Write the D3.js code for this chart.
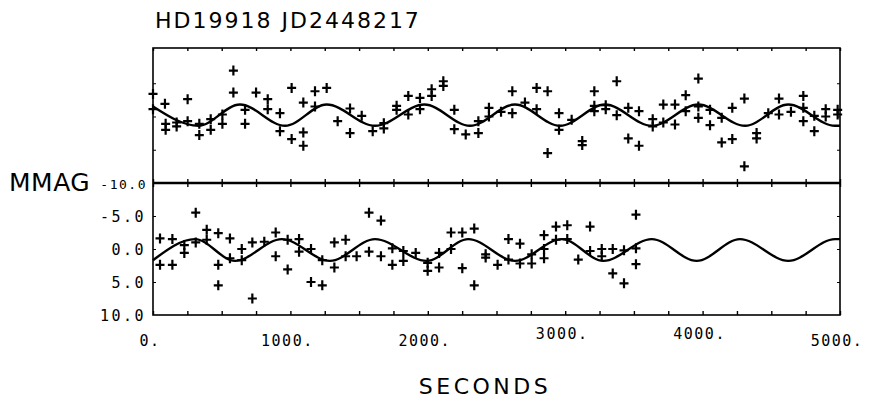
<!DOCTYPE html>
<html>
<head>
<meta charset="utf-8">
<script src="https://cdn.jsdelivr.net/npm/d3@7"></script>
<style>
	body { margin: 0; background: #fff; }
	text { fill: #000; }
</style>
</head>
<body>
<div id="chart"></div>
<script>
// upper light curve: time (s) and mmag
var topTime = [0, 0, 87, 92, 92, 172, 172, 252, 252, 337, 337, 420, 420, 505, 505, 585, 585, 670, 670, 750,
	835, 835, 924, 924, 1009, 1009, 1094, 1094, 1094, 1179, 1179, 1264, 1344, 1434, 1434, 1519, 1599, 1680, 1680,
	1773, 1773, 1858, 1858, 1943, 1943, 2028, 2028, 2113, 2113, 2193, 2193, 2276, 2368, 2368, 2445, 2445, 2533,
	2615, 2615, 2707, 2792, 2792, 2872, 2872, 2955, 2955, 3047, 3124, 3124, 3212, 3212, 3212, 3295, 3295, 3375,
	3375, 3459, 3459, 3537, 3537, 3637, 3637, 3714, 3714, 3799, 3799, 3877, 3877, 3969, 3969, 3969, 4054, 4054,
	4139, 4139, 4216, 4216, 4304, 4304, 4393, 4393, 4478, 4556, 4556, 4643, 4733, 4733, 4733, 4813, 4813, 4896,
	4896, 4983, 4983];
var topMag = [-3.4, -1.1, -1.9, 1.1, 2.0, 0.9, 1.5, -2.6, 0.7, 1.1, 2.8, 0.4, 2.0, -0.3, 1.1, -6.9, -3.6, -1.0, 1.1, -3.6,
	-2.6, -1.1, -0.5, 2.2, -4.3, 3.4, -2.1, 2.4, 4.4, -3.8, -1.5, -4.3, 0.7, -1.2, 2.5, -0.1, 2.2, 1.0, 1.8,
	-1.6, -1.0, -3.1, -0.3, -2.8, -1.1, -4.1, -3.1, -5.3, -4.6, -1.0, 1.9, 2.7, 0.7, 2.5, -1.3, 0.0, -0.7,
	-3.8, -0.5, -2.1, -4.3, -1.1, -3.8, 5.5, -0.5, 2.0, 0.5, 3.7, 4.3, -3.8, -1.6, -0.8, -1.7, -1.1, -5.3,
	-0.2, -1.3, 3.3, -0.8, 4.4, 0.4, 1.5, -1.8, 0.9, -1.8, 1.2, -3.2, -0.8, -5.7, -1.5, 0.2, -1.0, 1.3,
	0.2, 3.9, -1.3, 3.4, -2.7, 7.5, 2.5, 3.3, -0.5, -2.7, -0.3, -0.7, -3.1, -1.3, 0.7, -0.1, 2.2, -1.1,
	0.0, -1.0, -0.3];

// lower light curve
var botTime = [51, 51, 141, 141, 228, 228, 311, 311, 391, 391, 475, 475, 475, 560, 560, 646, 646, 723, 723, 810,
	893, 893, 980, 980, 1063, 1063, 1150, 1150, 1232, 1232, 1320, 1320, 1402, 1402, 1482, 1572, 1572, 1659, 1659,
	1742, 1742, 1822, 1822, 1912, 1999, 1999, 2082, 2082, 2169, 2169, 2251, 2251, 2338, 2338, 2421, 2421, 2508,
	2587, 2587, 2671, 2671, 2756, 2756, 2846, 2846, 2846, 2933, 2933, 3015, 3015, 3095, 3181, 3181, 3266, 3266,
	3346, 3346, 3428, 3428, 3515, 3515, 3515];
var botMag = [-1.6, 2.4, -1.5, 2.4, -0.6, 0.6, -5.5, -1.0, -2.9, -1.4, -2.4, 2.4, 5.5, -1.6, 1.4, 0.0, 1.7, -1.0, 7.5, -1.1,
	-2.5, 1.1, -1.4, 3.1, -1.5, 0.4, 0.0, 5.0, 1.7, 5.5, -1.0, 2.8, -1.4, 1.1, 1.1, -5.5, 0.4, -4.3, 1.1,
	-0.1, 2.4, 0.3, 1.8, 0.6, 2.1, 3.3, 0.6, 2.8, -2.5, 0.0, -2.5, 2.9, -3.1, 5.5, 0.8, 1.3, 2.4,
	-1.5, 1.6, -0.8, 2.2, 0.8, 2.2, -2.1, 0.0, 1.4, -3.4, -1.4, -3.6, -1.5, 1.6, -3.4, 0.3, 0.0, 1.1,
	0.0, 3.7, 0.2, 5.2, -5.2, -0.1, 2.3];

// fitted curves: turning points
var topFitTime = [0, 330, 633, 961, 1264, 1616, 1975, 2307, 2635, 2962, 3290, 3630, 3969, 4309, 4624, 4964, 5000];
var topFitMag = [-1.5, 1.4, -1.8, 1.4, -1.8, 1.4, -1.8, 1.4, -1.8, 1.4, -1.8, 1.4, -1.8, 1.4, -1.8, 1.4, 1.4];
var botFitTime = [0, 306, 597, 937, 1288, 1616, 1992, 2295, 2635, 2975, 3278, 3630, 3957, 4272, 4624, 4964, 5000];
var botFitMag = [1.7, -1.5, 1.8, -1.5, 1.8, -1.5, 1.8, -1.5, 1.8, -1.5, 1.8, -1.5, 1.8, -1.5, 1.8, -1.5, -1.5];

var xLabels = [0, 1000, 2000, 3000, 4000, 5000];
var yLabels = [-5, 0, 5, 10];

var width = 874, height = 400;
// NB: "top" is taken by window.top, so frame edges get a prefix
var frameL = 153, frameR = 840, frameT = 48, frameM = 183, frameB = 315;

var svg = d3.select("#chart").append("svg")
	.attr("width", width).attr("height", height);

var x = d3.scaleLinear().domain([0, 5000]).range([frameL, frameR]);
var yTop = d3.scaleLinear().domain([-10.3, 10]).range([frameT, frameM]);
var yBot = d3.scaleLinear().domain([-10, 10]).range([frameM, frameB]);

// frames
svg.append("rect").attr("x", frameL).attr("y", frameT)
	.attr("width", frameR - frameL).attr("height", frameB - frameT)
	.attr("fill", "none").attr("stroke", "#000").attr("stroke-width", 1.6);
svg.append("line").attr("x1", frameL).attr("x2", frameR)
	.attr("y1", frameM).attr("y2", frameM)
	.attr("stroke", "#000").attr("stroke-width", 2.6);

// tick marks every 250 s
var minor = d3.range(0, 5001, 250);
function xTicks(y, size) {
	svg.append("g").attr("transform", "translate(0," + y + ")")
		.call(d3.axisBottom(x).tickValues(minor).tickSize(size).tickFormat(""))
		.call(function(g) { g.select(".domain").remove(); })
		.selectAll("line").attr("stroke-width", 1.4);
}
xTicks(frameT, 3);
xTicks(frameM - 4, 8);
xTicks(frameB, -4);

function yTicks(scale) {
	svg.append("g").attr("transform", "translate(" + frameL + ",0)")
		.call(d3.axisRight(scale).tickValues([-5, 0, 5]).tickSize(3).tickFormat(""))
		.call(function(g) { g.select(".domain").remove(); });
	svg.append("g").attr("transform", "translate(" + frameR + ",0)")
		.call(d3.axisLeft(scale).tickValues([-5, 0, 5]).tickSize(3).tickFormat(""))
		.call(function(g) { g.select(".domain").remove(); });
}
yTicks(yTop);
yTicks(yBot);

// fitted curves
var fitLine = function(scale) {
	return d3.line().x(function(d) { return x(d[0]); })
		.y(function(d) { return scale(d[1]); })
		.curve(d3.curveMonotoneX);
};
svg.append("path").datum(d3.zip(topFitTime, topFitMag))
	.attr("d", fitLine(yTop)).attr("fill", "none")
	.attr("stroke", "#000").attr("stroke-width", 2.4);
svg.append("path").datum(d3.zip(botFitTime, botFitMag))
	.attr("d", fitLine(yBot)).attr("fill", "none")
	.attr("stroke", "#000").attr("stroke-width", 2.4);

// observations as crosses
var cross = "M-4.5,0H4.5M0,-5V5";
function drawPoints(times, mags, scale) {
	svg.append("g").selectAll("path").data(d3.zip(times, mags)).enter()
		.append("path").attr("d", cross)
		.attr("transform", function(d) {
			return "translate(" + x(d[0]) + "," + scale(d[1]) + ")";
		})
		.attr("stroke", "#000").attr("stroke-width", 2.2).attr("fill", "none");
}
drawPoints(topTime, topMag, yTop);
drawPoints(botTime, botMag, yBot);

// labels
var mono = "'DejaVu Sans Mono', monospace";
var sans = "'DejaVu Sans', sans-serif";

svg.append("text").text("HD19918 JD2448217")
	.attr("x", 155).attr("y", 28)
	.attr("font-family", sans).attr("font-size", 22)
	.attr("letter-spacing", 2);

svg.append("text").text("MMAG")
	.attr("x", 9).attr("y", 191)
	.attr("font-family", sans).attr("font-size", 25)
	.attr("letter-spacing", 0.5);
svg.append("text").text("-10.0")
	.attr("x", 147).attr("y", 189)
	.attr("text-anchor", "end")
	.attr("font-family", mono).attr("font-size", 13)
	.attr("letter-spacing", 1.5);

svg.selectAll(".ylab").data(yLabels).enter().append("text")
	.text(function(d) { return d3.format(".1f")(d).replace("−", "-"); })
	.attr("x", 146).attr("y", function(d) { return yBot(d) + 6; })
	.attr("text-anchor", "end")
	.attr("font-family", mono).attr("font-size", 15)
	.attr("letter-spacing", 2.5);

svg.selectAll(".xlab").data(xLabels).enter().append("text")
	.text(function(d) { return d + "."; })
	.attr("x", function(d) { return x(d) - 3; })
	.attr("y", function(d) { return (d == 3000 || d == 4000) ? 339 : 346; })
	.attr("text-anchor", "middle")
	.attr("font-family", mono).attr("font-size", 15)
	.attr("letter-spacing", 1.5);

svg.append("text").text("SECONDS")
	.attr("x", 485).attr("y", 394)
	.attr("text-anchor", "middle")
	.attr("font-family", sans).attr("font-size", 22)
	.attr("letter-spacing", 3.5);
</script>
</body>
</html>
